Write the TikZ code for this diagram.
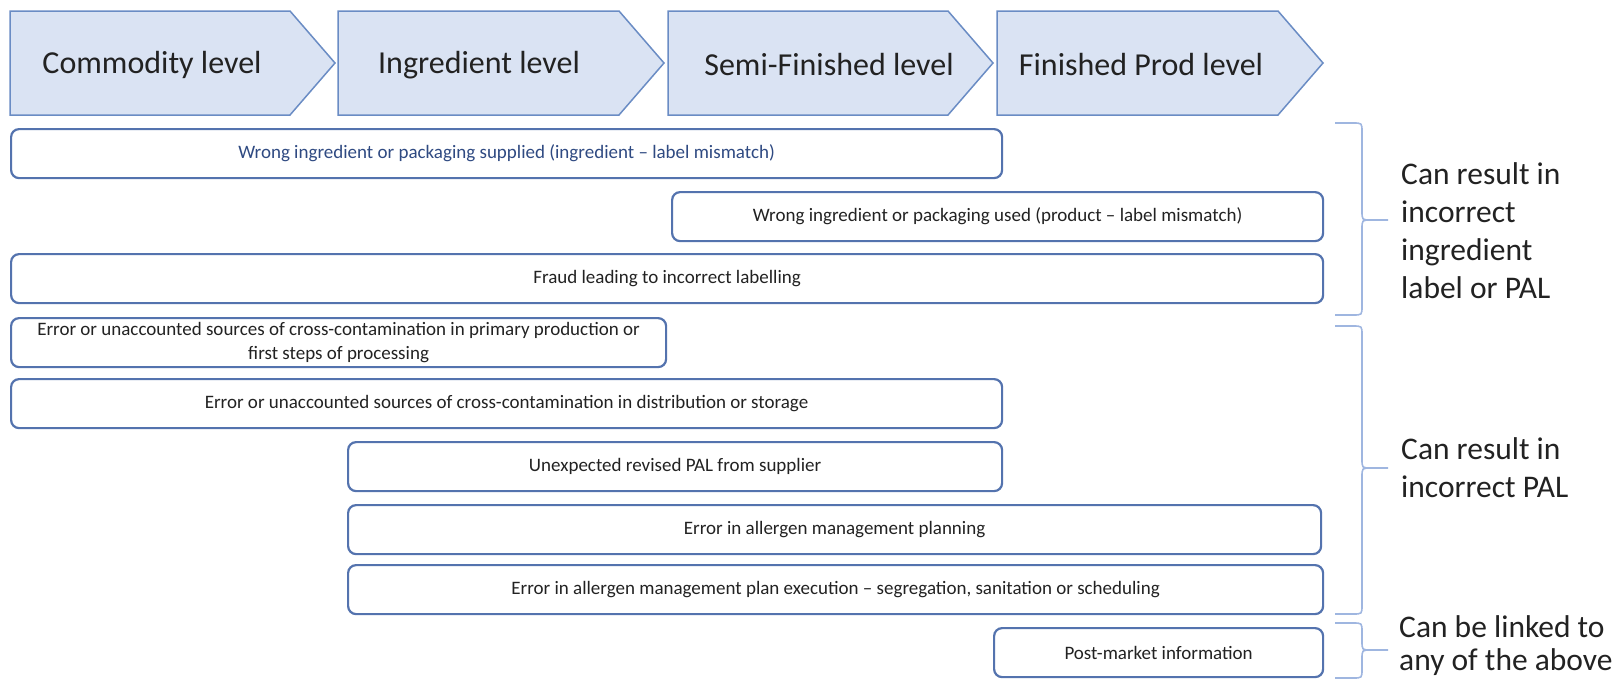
\documentclass[tikz,border=0pt]{standalone}
\usepackage{fontspec}
\setmainfont{Carlito}
\begin{document}
\definecolor{chevfill}{HTML}{DAE3F3}
\definecolor{chevline}{HTML}{6A8CC4}
\definecolor{boxline}{HTML}{5473AE}
\definecolor{braceline}{HTML}{9FB6E0}
\definecolor{ink}{HTML}{222222}
\definecolor{navyink}{HTML}{2F4A82}
\tikzset{
  chev/.style={draw=chevline, fill=chevfill, line width=1.5pt, line join=miter},
  chevtext/.style={font=\fontsize{32}{38}\selectfont, text=ink, inner sep=0pt},
  riskbox/.style={draw=boxline, line width=2.2pt, rounded corners=8pt, fill=white,
    anchor=north west, minimum height=49pt, inner sep=0pt,
    font=\fontsize{19}{24}\selectfont, text=ink, align=center},
  brc/.style={draw=braceline, line width=1.6pt},
  outcome/.style={font=\fontsize{31.5}{38}\selectfont, text=ink, align=left, anchor=west, inner sep=0pt},
}
\newcommand\drawbrace[3]{%
  \draw[brc] (1335,#1) -- (1353,#1) .. controls (1362,#1) .. (1362,#1+9) -- (1362,#3-9)
    .. controls (1362,#3) .. (1371,#3) -- (1388,#3);
  \draw[brc] (1335,#2) -- (1353,#2) .. controls (1362,#2) .. (1362,#2-9) -- (1362,#3+9)
    .. controls (1362,#3) .. (1371,#3);
}
\begin{tikzpicture}[x=1pt, y=-1pt]
\useasboundingbox (0,0) rectangle (1618,678);

% supply-chain stages
\draw[chev] (10,11) -- (290,11) -- (335,63) -- (290,115) -- (10,115) -- cycle;
\draw[chev] (338,11) -- (619,11) -- (664,63) -- (619,115) -- (338,115) -- cycle;
\draw[chev] (668,11) -- (948,11) -- (993,63) -- (948,115) -- (668,115) -- cycle;
\draw[chev] (997,11) -- (1278,11) -- (1323,63) -- (1278,115) -- (997,115) -- cycle;
\node[chevtext] (s1) at (152,65) {Commodity level};
\node[chevtext] (s2) at (479,65) {Ingredient level};
\node[chevtext] (s3) at (829,65) {Semi-Finished level};
\node[chevtext] (s4) at (1141,65) {Finished Prod level};

% risk sources
\node[riskbox, minimum width=991pt, text=navyink] (r1) at (10,128) {Wrong ingredient or packaging supplied (ingredient – label mismatch)};
\node[riskbox, minimum width=651pt] (r2) at (671,191) {Wrong ingredient or packaging used (product – label mismatch)};
\node[riskbox, minimum width=1312pt] (r3) at (10,253) {Fraud leading to incorrect labelling};
\node[riskbox, minimum width=655pt] (r4) at (10,317) {Error or unaccounted sources of cross-contamination in primary production or\\first steps of processing};
\node[riskbox, minimum width=991pt] (r5) at (10,378) {Error or unaccounted sources of cross-contamination in distribution or storage};
\node[riskbox, minimum width=654pt] (r6) at (347,441) {Unexpected revised PAL from supplier};
\node[riskbox, minimum width=973pt] (r7) at (347,504) {Error in allergen management planning};
\node[riskbox, minimum width=975pt] (r8) at (347,564) {Error in allergen management plan execution – segregation, sanitation or scheduling};
\node[riskbox, minimum width=329pt] (r9) at (993,627) {Post-market information};

% outcome braces
\drawbrace{123}{315}{220}
\drawbrace{326}{614}{468}
\drawbrace{623}{678}{650}
\coordinate (t1) at (1388,220);
\coordinate (t2) at (1388,468);
\coordinate (t3) at (1388,650);

\node[outcome] (o1) at ([xshift=13pt]t1|-0,231) {Can result in\\incorrect\\ingredient\\label or PAL};
\node[outcome] (o2) at ([xshift=13pt]t2|-0,468) {Can result in\\incorrect PAL};
\node[outcome, font=\fontsize{31.5}{33}\selectfont] (o3) at ([xshift=11pt]t3|-0,646) {Can be linked to\\any of the above};
\end{tikzpicture}
\end{document}
